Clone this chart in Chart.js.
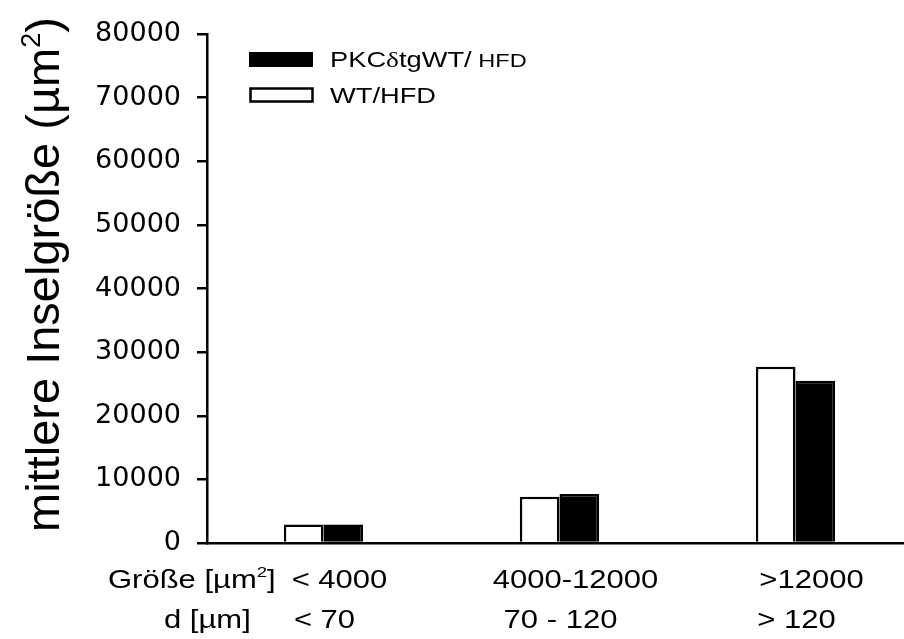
<!DOCTYPE html>
<html>
<head>
<meta charset="utf-8">
<script src="https://cdn.jsdelivr.net/npm/chart.js@4/dist/chart.umd.min.js"></script>
<style>
  html, body { margin: 0; padding: 0; background: #fff; }
  #wrap { width: 904px; height: 639px; }
</style>
</head>
<body>
<div id="wrap"><canvas id="inselChart" width="904" height="639"></canvas></div>
<script>
// --- données ---
const groupPos = [0, 1, 2];                              // position des groupes sur l'axe x
const sizeLabels = ['< 4000', '4000-12000', '>12000'];  // Größe [µm²]
const diamLabels = ['< 70', '70 - 120', '> 120'];       // d [µm]
const wtHfd = [2900, 7250, 27700];                       // WT/HFD (blanc)
const pkcHfd = [2900, 7700, 25500];                      // PKCδtgWT/ HFD (noir)
const yTicks = [0, 10000, 20000, 30000, 40000, 50000, 60000, 70000, 80000];

const SANS = '"Liberation Sans", Arial, sans-serif';
const STRETCH = 1.24; // la figure d'origine est étirée horizontalement

// dessine un morceau de texte composé (exposants, polices mixtes)
function drawParts(ctx, parts, x, y, sx, align) {
  let w = 0;
  parts.forEach(p => { ctx.font = p.font; w += ctx.measureText(p.text).width; });
  let start = x;
  if (align === 'center') start = x - w * sx / 2;
  else if (align === 'right') start = x - w * sx;
  ctx.save();
  ctx.translate(start, y);
  ctx.scale(sx, 1);
  let cx = 0;
  parts.forEach(p => {
    ctx.font = p.font;
    ctx.fillText(p.text, cx, -(p.rise || 0));
    cx += ctx.measureText(p.text).width;
  });
  ctx.restore();
}

const textPlugin = {
  id: 'textPlugin',
  afterDraw(chart) {
    const ctx = chart.ctx;
    const xs = chart.scales.x;
    const bottom = chart.chartArea.bottom;
    ctx.save();
    ctx.fillStyle = '#000';
    ctx.textAlign = 'left';
    ctx.textBaseline = 'alphabetic';

    // titre de l'axe y (vertical)
    ctx.save();
    ctx.translate(59, 532);
    ctx.rotate(-Math.PI / 2);
    drawParts(ctx, [
      { text: 'mittlere Inselgröße (µm', font: '47px ' + SANS },
      { text: '2', font: '27px ' + SANS, rise: 19 },
      { text: ')', font: '47px ' + SANS }
    ], 0, 0, 1, 'left');
    ctx.restore();

    // étiquettes sous l'axe x
    drawParts(ctx, [
      { text: 'Größe [µm', font: '25px ' + SANS },
      { text: '2', font: '15px ' + SANS, rise: 11 },
      { text: ']', font: '25px ' + SANS }
    ], 108, bottom + 45, STRETCH, 'left');
    drawParts(ctx, [{ text: 'd [µm]', font: '25px ' + SANS }], 164, bottom + 85, STRETCH, 'left');

    groupPos.forEach((g, i) => {
      const px = xs.getPixelForValue(g);
      drawParts(ctx, [{ text: sizeLabels[i], font: '25px ' + SANS }], px + 16, bottom + 45, STRETCH, 'center');
      drawParts(ctx, [{ text: diamLabels[i], font: '25px ' + SANS }], px + 1, bottom + 85, STRETCH, 'center');
    });

    // légende
    ctx.fillStyle = '#000';
    ctx.fillRect(249, 52, 64, 15);
    ctx.lineWidth = 2.5;
    ctx.strokeStyle = '#000';
    ctx.strokeRect(250.5, 88.5, 62, 13);
    drawParts(ctx, [
      { text: 'PKC', font: '22px ' + SANS },
      { text: 'δ', font: '22px "Liberation Serif", serif' },
      { text: 'tg', font: '22px ' + SANS },
      { text: 'WT/', font: '22px ' + SANS },
      { text: ' HFD', font: '19px ' + SANS }
    ], 330, 67, STRETCH, 'left');
    drawParts(ctx, [{ text: 'WT/HFD', font: '22px ' + SANS }], 330, 103, STRETCH, 'left');

    ctx.restore();
  }
};

const ctx = document.getElementById('inselChart').getContext('2d');
const chart = new Chart(ctx, {
  type: 'bar',
  data: {
    datasets: [
      {
        label: 'WT/HFD',
        data: groupPos.map((g, i) => ({ x: g, y: wtHfd[i] })),
        backgroundColor: '#fff',
        borderColor: '#000',
        borderWidth: 2.5
      },
      {
        label: 'PKCδtgWT/ HFD',
        data: groupPos.map((g, i) => ({ x: g, y: pkcHfd[i] })),
        backgroundColor: '#000',
        borderColor: '#000',
        borderWidth: 2.5
      }
    ]
  },
  options: {
    responsive: false,
    devicePixelRatio: 1,
    animation: false,
    categoryPercentage: 0.336,
    barPercentage: 1,
    layout: { padding: { top: 34, right: 0, bottom: 0, left: 0 } },
    plugins: {
      legend: { display: false },
      tooltip: { enabled: false }
    },
    scales: {
      x: {
        type: 'linear',
        min: -0.4936,
        max: 2.4597,
        offset: false,
        afterBuildTicks: s => { s.ticks = groupPos.map(v => ({ value: v })); },
        grid: { display: false },
        ticks: { display: false },
        border: { display: true, color: '#000', width: 2.5 },
        afterFit: s => { s.height = 96; }
      },
      y: {
        min: 0,
        max: 80000,
        afterBuildTicks: s => { s.ticks = yTicks.map(v => ({ value: v })); },
        grid: { display: true, drawOnChartArea: false, drawTicks: true, tickLength: 10, color: '#000', lineWidth: 2.5 },
        border: { display: true, color: '#000', width: 2.5 },
        ticks: {
          color: '#000',
          padding: 16,
          font: { family: '"DejaVu Sans", sans-serif', size: 27 },
          callback: v => String(v)
        },
        afterFit: s => { s.width = 207; }
      }
    }
  },
  plugins: [textPlugin]
});
</script>
</body>
</html>
